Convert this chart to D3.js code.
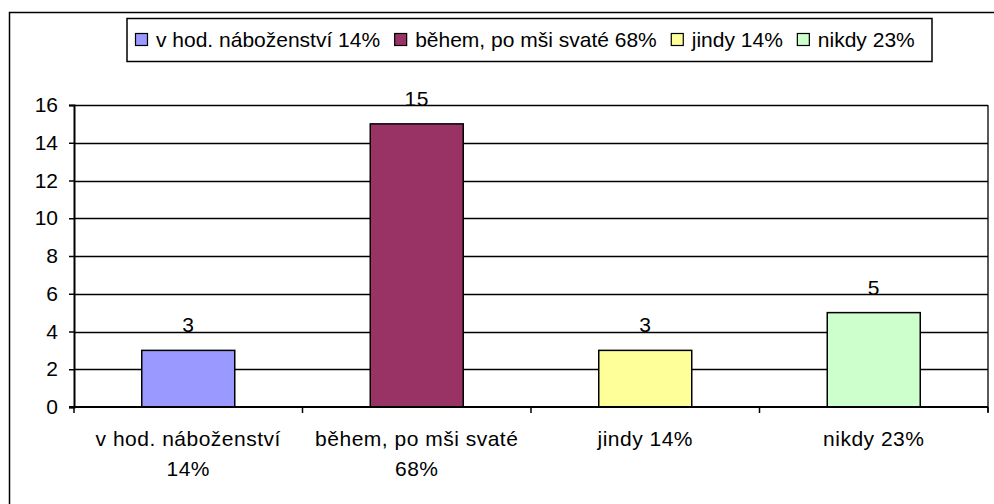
<!DOCTYPE html>
<html>
<head>
<meta charset="utf-8">
<script src="https://cdn.jsdelivr.net/npm/d3@7"></script>
<style>
  body { margin: 0; background: #fff; }
  svg { display: block; }
  text { font-family: "Liberation Sans", Arial, sans-serif; fill: #000; }
</style>
</head>
<body>
<svg id="chart" width="994" height="504"></svg>
<script>
const categories = ["v hod. náboženství 14%", "během, po mši svaté 68%", "jindy 14%", "nikdy 23%"];
const axisLabels = [["v hod. náboženství", "14%"], ["během, po mši svaté", "68%"], ["jindy 14%"], ["nikdy 23%"]];
const values = [3, 15, 3, 5];
const colors = ["#9999FF", "#993366", "#FFFF99", "#CCFFCC"];
const yTicks = [0, 2, 4, 6, 8, 10, 12, 14, 16];

(function () {
const svg = d3.select("#chart");
const FS = 21;
const LS = "0.5px";

// outer frame
svg.append("rect").attr("x", 9.5).attr("y", 12.5).attr("width", 1000).attr("height", 500)
  .attr("fill", "#fff").attr("stroke", "#000").attr("stroke-width", 1.5);

const pLeft = 74, pRight = 988, pTop = 105, pBottom = 407;
const x = d3.scaleBand().domain(categories).range([pLeft, pRight]).padding(0);
const y = d3.scaleLinear().domain([0, 16]).range([pBottom, pTop]);

// gridlines
svg.append("g").selectAll("line").data(yTicks.filter(d => d > 0)).join("line")
  .attr("x1", pLeft).attr("x2", pRight)
  .attr("y1", d => Math.round(y(d)) + 0.5).attr("y2", d => Math.round(y(d)) + 0.5)
  .attr("stroke", "#000").attr("stroke-width", 1.3);

// right border of plot area
svg.append("line").attr("x1", pRight).attr("x2", pRight).attr("y1", pTop).attr("y2", pBottom + 5)
  .attr("stroke", "#000").attr("stroke-width", 1.3);

// bars
const bw = x.bandwidth() * 0.407;
svg.append("g").selectAll("rect").data(values).join("rect")
  .attr("x", (d, i) => x(categories[i]) + (x.bandwidth() - bw) / 2)
  .attr("y", d => y(d))
  .attr("width", bw)
  .attr("height", d => y(0) - y(d))
  .attr("fill", (d, i) => colors[i])
  .attr("stroke", "#000").attr("stroke-width", 1.5);

// value labels
svg.append("g").selectAll("text").data(values).join("text")
  .attr("x", (d, i) => x(categories[i]) + x.bandwidth() / 2)
  .attr("y", d => y(d) - 18)
  .attr("text-anchor", "middle")
  .attr("font-size", FS).attr("letter-spacing", LS)
  .text(d => d);

// y axis
const yAxis = d3.axisLeft(y).tickValues(yTicks).tickSize(5).tickPadding(11).tickFormat(d3.format("d"));
const gy = svg.append("g").attr("transform", `translate(${pLeft},0)`).call(yAxis);
gy.select(".domain").attr("stroke", "#000").attr("stroke-width", 2);
gy.selectAll(".tick line").attr("stroke", "#000").attr("stroke-width", 1.5);
gy.selectAll(".tick text").attr("font-size", FS).attr("font-family", "Liberation Sans, Arial, sans-serif").attr("fill", "#000");

// x axis line + boundary ticks
svg.append("line").attr("x1", pLeft - 5).attr("x2", pRight).attr("y1", pBottom).attr("y2", pBottom)
  .attr("stroke", "#000").attr("stroke-width", 2);
const bounds = categories.map(c => x(c)).concat([x.range()[1]]);
svg.append("g").selectAll("line").data(bounds).join("line")
  .attr("x1", d => d).attr("x2", d => d).attr("y1", pBottom).attr("y2", pBottom + 6)
  .attr("stroke", "#000").attr("stroke-width", 1.5);

// x labels
const xl = svg.append("g").selectAll("text").data(axisLabels).join("text")
  .attr("text-anchor", "middle").attr("font-size", FS).attr("letter-spacing", LS)
  .attr("x", (d, i) => x(categories[i]) + x.bandwidth() / 2)
  .attr("y", 446);
xl.selectAll("tspan").data(d => d).join("tspan")
  .attr("x", function() { return this.parentNode.getAttribute("x"); })
  .attr("dy", (d, i) => i === 0 ? 0 : 30)
  .text(d => d);

// legend
const lg = svg.append("g");
lg.append("rect").attr("x", 127).attr("y", 18.5).attr("width", 805).attr("height", 43)
  .attr("fill", "#fff").attr("stroke", "#000").attr("stroke-width", 1.5);
let cx = 135;
categories.forEach((c, i) => {
  lg.append("rect").attr("x", cx + 0.5).attr("y", 33.5).attr("width", 12).attr("height", 12)
    .attr("fill", colors[i]).attr("stroke", "#000").attr("stroke-width", 1.2);
  const t = lg.append("text").attr("x", cx + 21).attr("y", 47)
    .attr("font-size", FS).text(c);
  const w = t.node().getComputedTextLength();
  cx = cx + 21 + w + 14;
});
})();
</script>
</body>
</html>
